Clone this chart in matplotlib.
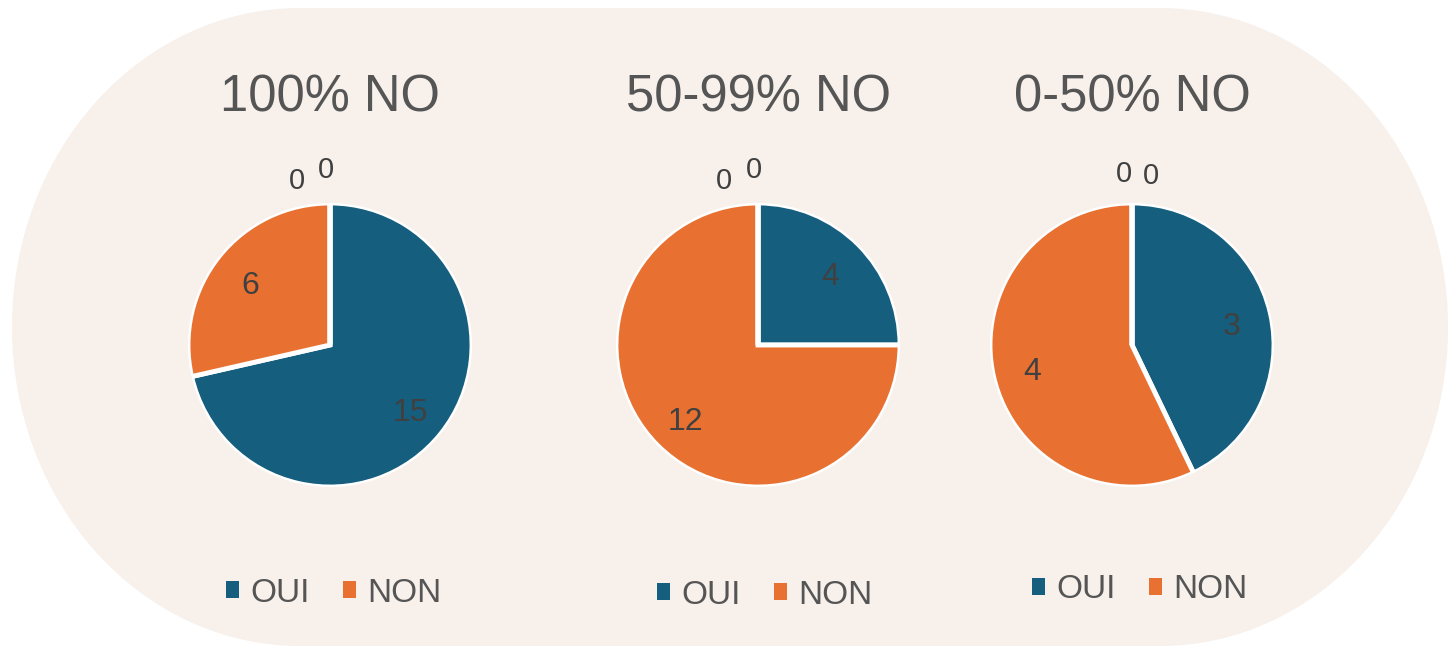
import numpy as np
import matplotlib
matplotlib.use("Agg")
import matplotlib.pyplot as plt
from matplotlib.patches import Rectangle, Ellipse, Patch

plt.rcParams['font.family'] = ['Liberation Sans', 'DejaVu Sans']

# data
titles = ["100% NO", "50-99% NO", "0-50% NO"]
categories = ["OUI", "NON", "", ""]
oui = [15, 4, 3]
non = [6, 12, 4]
blank1 = [0, 0, 0]
blank2 = [0, 0, 0]

# style
blue = '#155E7E'
orange = '#E87131'
bg_col = '#F7F0EB'
txt_col = '#404040'
title_col = '#555555'

W, H = 1455, 646
fig = plt.figure(figsize=(W / 100, H / 100), dpi=100)

# pill shaped background
bg = fig.add_axes([0, 0, 1, 1])
bg.set_xlim(0, W)
bg.set_ylim(H, 0)
bg.axis('off')
bg.add_patch(Rectangle((300, 8), 860, 640, color=bg_col, lw=0))
bg.add_patch(Ellipse((300, 327), 576, 638, color=bg_col, lw=0))
bg.add_patch(Ellipse((1160, 327), 576, 638, color=bg_col, lw=0))

# pixel layout for each pie: centre, legend centre, offsets of the zero labels
centres = [(330, 345), (758, 345), (1132, 345)]
legend_pos = [(334, 593), (765, 595), (1140, 590)]
zero_offsets = [[(-33, 22), (-4, 33)], [(-34, 22), (-4, 33)], [(-8, 29), (19, 27)]]
R = 142

for i in range(3):
    cx, cy = centres[i]
    half = 1.5 * R
    ax = fig.add_axes([(cx - half) / W, (H - cy - half) / H, 2 * half / W, 2 * half / H])
    ax.patch.set_alpha(0)
    vals = [oui[i], non[i], blank1[i], blank2[i]]
    wedges, _ = ax.pie(vals, colors=[blue, orange, blue, orange], startangle=90,
                       counterclock=False, radius=1,
                       wedgeprops=dict(edgecolor='white', linewidth=3.5))
    ax.set_xlim(-1.5, 1.5)
    ax.set_ylim(-1.5, 1.5)
    ax.add_patch(plt.Circle((0, 0), 1.0 + 2.5 / R, fill=False, ec=bg_col, lw=3.5))

    # data labels
    k = 0
    for w, v in zip(wedges, vals):
        ang = np.deg2rad((w.theta1 + w.theta2) / 2)
        if v > 0:
            ax.text(0.72 * np.cos(ang), 0.72 * np.sin(ang) - 0.03, str(v), fontsize=23,
                    color=txt_col, ha='center', va='center')
        else:
            dx, dy = zero_offsets[i][k]
            k += 1
            ax.annotate(str(v), (np.cos(ang), np.sin(ang)), xytext=(dx, dy),
                        textcoords='offset pixels', fontsize=21, color=txt_col,
                        ha='center', va='center', annotation_clip=False)

    # title
    bg.text(cx, 111, titles[i], fontsize=36.5, color=title_col, ha='center', va='baseline')

    # legend
    handles = [Patch(facecolor=blue, edgecolor='none'), Patch(facecolor=orange, edgecolor='none')]
    lx, ly = legend_pos[i]
    fig.legend(handles, categories[:2], loc='center', ncol=2,
               bbox_to_anchor=(lx / W, 1 - ly / H), bbox_transform=fig.transFigure,
               frameon=False, fontsize=24, labelcolor=title_col,
               handlelength=0.38, handleheight=0.38, handletextpad=0.35,
               columnspacing=1.0)

fig.savefig('out.png', dpi=100, facecolor='white')
